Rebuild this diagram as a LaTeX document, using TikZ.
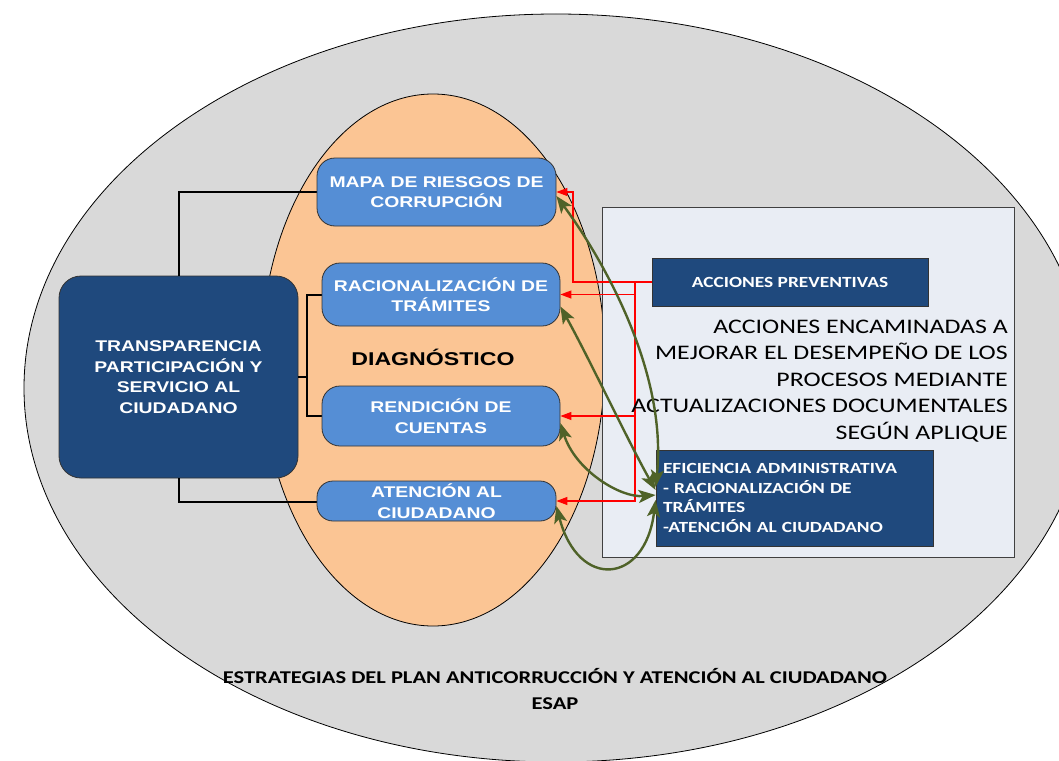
\documentclass[tikz,border=0pt]{standalone}
\usepackage{fontspec}
\usetikzlibrary{arrows.meta}
\newfontfamily\arialf[FakeStretch=1.25]{Liberation Sans}
\newfontfamily\calf[FakeStretch=1.25]{Carlito}
\definecolor{bggray}{HTML}{D9D9D9}
\definecolor{orng}{HTML}{FBC594}
\definecolor{lblue}{HTML}{558ED5}
\definecolor{dblue}{HTML}{1F497D}
\definecolor{panelc}{HTML}{E9EDF4}
\definecolor{olivec}{HTML}{4F6228}
\begin{document}
\begin{tikzpicture}[x=1pt,y=-1pt,
 bluebox/.style={draw=black!80, line width=0.8pt, fill=lblue, rounded corners=18pt, text=white, align=center, inner sep=0pt, font=\arialf\bfseries\fontsize{15.5}{20.5}\selectfont},
 darkbox/.style={draw=black!80, line width=0.8pt, fill=dblue, text=white, inner sep=0pt},
 conn/.style={line width=2pt},
 redarrow/.style={red, line width=1.1pt, -{Triangle[length=11pt,width=8pt]}},
 greenarrow/.style={olivec, line width=2.4pt, {Stealth[length=17pt,width=13pt,inset=4pt]}-{Stealth[length=17pt,width=13pt,inset=4pt]}},
]
\useasboundingbox (0,0) rectangle (1059,760);
\fill[white] (0,0) rectangle (1059,760);
\clip (0,0) rectangle (1059,760);
% background shapes
\draw[fill=bggray, line width=0.8pt] (556,388) ellipse [x radius=532, y radius=374];
\draw[fill=orng, line width=0.8pt] (433,360) ellipse [x radius=172, y radius=266];
\draw[fill=panelc, draw=black!75, line width=1pt] (602,207) rectangle (1014,557);

% nodes
\node[darkbox, rounded corners=22pt, minimum width=239, minimum height=202, align=center,
      font=\arialf\bfseries\fontsize{15.5}{20.5}\selectfont] (trans) at (178.5,377)
      {TRANSPARENCIA\\PARTICIPACIÓN Y\\SERVICIO AL\\CIUDADANO};

\coordinate (j) at (307,377);
\draw[conn] (trans.north) |- (317,192);
\draw[conn] (trans.south) |- (317,502);
\draw[conn] (trans.east) -- (j);
\draw[conn] (j) |- (322,294.5);
\draw[conn] (j) |- (322,416);

\node[bluebox, minimum width=239, minimum height=68] (mapa) at (436.5,192) {MAPA DE RIESGOS DE\\CORRUPCIÓN};
\node[bluebox, minimum width=238, minimum height=63] (raci) at (441,294.5) {RACIONALIZACIÓN DE\\TRÁMITES};
\node[bluebox, minimum width=238, minimum height=60] (rend) at (441,416) {RENDICIÓN DE\\CUENTAS};
\node[bluebox, rounded corners=16pt, minimum width=239, minimum height=40] (aten) at (436.5,501) {ATENCIÓN AL\\CIUDADANO};

\node[font=\arialf\bfseries\fontsize{18.5}{22}\selectfont, inner sep=0pt] (diag) at (433,357) {DIAGNÓSTICO};

\node[darkbox, minimum width=276, minimum height=48, font=\calf\bfseries\fontsize{15.5}{19.5}\selectfont] (prev) at (790,282) {ACCIONES PREVENTIVAS};

\node[darkbox, minimum width=277, minimum height=96, text width=263, inner xsep=7pt, align=left,
      font=\calf\bfseries\fontsize{15.5}{19.5}\selectfont] (eff) at (794.5,498)
      {EFICIENCIA ADMINISTRATIVA\\- RACIONALIZACIÓN DE\\TRÁMITES\\-ATENCIÓN AL CIUDADANO};

% red connectors
\coordinate (r1) at (573,282);
\coordinate (r2) at (635,282);
\draw[redarrow] (prev.west) -- (r1) |- (mapa.east);
\draw[redarrow] (r2) |- (raci.east);
\draw[redarrow] (r2) |- (rend.east);
\draw[redarrow] (r2) |- (aten.east);

\node[anchor=east, align=right, inner sep=0pt, font=\calf\fontsize{20.7}{26.5}\selectfont] (acttext) at (1008,381)
  {ACCIONES ENCAMINADAS A\\MEJORAR EL DESEMPEÑO DE LOS\\PROCESOS MEDIANTE\\ACTUALIZACIONES DOCUMENTALES\\SEGÚN APLIQUE};

% green connectors
\draw[greenarrow] ([yshift=-4pt]mapa.east) .. controls (600,255) and (668,370) .. ([yshift=11pt]eff.west);
\draw[greenarrow] ([yshift=-12pt]raci.east) .. controls (590,360) and (630,445) .. ([yshift=8pt]eff.west);
\draw[greenarrow] ([yshift=-7pt]rend.east) .. controls (575,470) and (620,498) .. ([yshift=3pt]eff.west);
\draw[greenarrow] ([yshift=-5pt]aten.east) .. controls (578,590) and (645,585) .. ([yshift=-2pt]eff.west);

\node[align=center, inner sep=0pt, font=\calf\bfseries\fontsize{18}{26}\selectfont] (title) at (555,689)
  {ESTRATEGIAS DEL PLAN ANTICORRUCCIÓN Y ATENCIÓN AL CIUDADANO\\ESAP};
\end{tikzpicture}
\end{document}
